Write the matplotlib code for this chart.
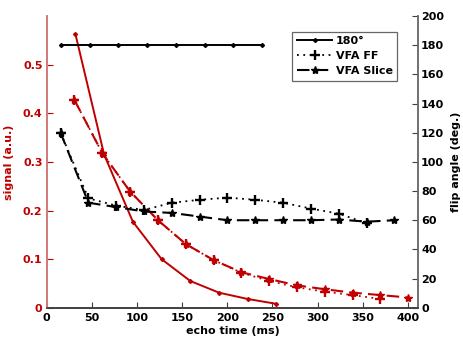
"""Signal decay and flip-angle schedules for 180 deg vs variable flip angle trains."""
import matplotlib

matplotlib.use("Agg")
import matplotlib.pyplot as plt
import numpy as np

RED = "#c00000"
INK = "#000000"

# echo times (ms)
te_180_sig = [31.8, 63.6, 95.4, 127.2, 159.0, 190.8, 222.6, 254.4]
te_180_fa = [15.9, 47.7, 79.5, 111.3, 143.1, 174.9, 206.7, 238.5]
te_vfa_sig = [30.8, 61.6, 92.4, 123.2, 154.0, 184.8, 215.6, 246.4, 277.2, 308.0, 338.8, 369.6, 400.4]
te_vfa_fa = [15.4, 46.2, 77.0, 107.8, 138.6, 169.4, 200.2, 231.0, 261.8, 292.6, 323.4, 354.2, 385.0]

# signal (a.u.)
sig_180 = [0.563, 0.315, 0.177, 0.100, 0.055, 0.031, 0.018, 0.008]
sig_ff = [0.427, 0.318, 0.239, 0.180, 0.131, 0.098, 0.072, 0.055, 0.042, 0.033, 0.026, 0.018]
sig_slice = [0.427, 0.318, 0.239, 0.180, 0.131, 0.098, 0.073, 0.059, 0.046, 0.038, 0.031, 0.026, 0.021]

# flip angle (deg.)
fa_180 = [180, 180, 180, 180, 180, 180, 180, 180]
fa_ff = [120, 75, 70, 67, 72, 74, 75.5, 74, 72, 68, 64.5, 58]
fa_slice = [120, 72, 69, 66, 65, 62.5, 60, 60, 60, 60, 60.5, 59, 60]

bold = dict(fontweight="bold", fontsize=8)

fig = plt.figure(figsize=(4.64, 3.45), dpi=100)
ax = fig.add_axes([0.1006, 0.108, 0.801, 0.8455])
ax2 = ax.twinx()

dash = (0, (6, 3))
dot = (0, (1, 2.5))

# signal curves on the left axis
ax.plot(te_180_sig, sig_180, color=RED, lw=1.4, marker="D", ms=2)
ax.plot(te_vfa_sig[:12], sig_ff, color=RED, lw=1.3, ls=dot, marker="+", ms=7, mew=1.7)
ax.plot(te_vfa_sig, sig_slice, color=RED, lw=1.5, ls=dash, marker="*", ms=6)

# flip angle schedules on the right axis
ax2.plot(te_180_fa, fa_180, color=INK, lw=1.4, marker="D", ms=2, label="180°")
ax2.plot(te_vfa_fa[:12], fa_ff, color=INK, lw=1.3, ls=dot, marker="+", ms=7, mew=1.7,
         label="VFA FF")
ax2.plot(te_vfa_fa, fa_slice, color=INK, lw=1.5, ls=dash, marker="*", ms=6,
         label="VFA Slice")

ax.set_xlim(0, 411.5)
ax.set_ylim(0, 0.6)
ax.set_yticks(np.arange(0, 0.51, 0.1))
ax.set_yticklabels(["0", "0.1", "0.2", "0.3", "0.4", "0.5"])
ax.set_xticks(range(0, 401, 50))
ax2.set_ylim(0, 200)
ax2.set_yticks(range(0, 201, 20))

ax.tick_params(axis="x", direction="in", length=4, pad=4, color="#404040")
ax.tick_params(axis="y", direction="in", length=4, pad=3, colors=RED)
ax2.tick_params(axis="y", direction="in", length=4, pad=2, color="#404040")
for lab in ax.get_xticklabels() + ax.get_yticklabels() + ax2.get_yticklabels():
    lab.set_fontweight("bold")
    lab.set_fontsize(8)
for lab in ax.get_yticklabels():
    lab.set_color(RED)

for a in (ax, ax2):
    a.spines["top"].set_visible(False)
    a.spines["left"].set_color("#d07878")
    a.spines["bottom"].set_color("#404040")
    a.spines["right"].set_color("#707070")
    a.spines["left"].set_linewidth(1.2)
    a.spines["bottom"].set_linewidth(1.2)
    a.spines["right"].set_linewidth(1.2)

ax.set_xlabel("echo time (ms)", labelpad=2, **bold)
ax.set_ylabel("signal (a.u.)", color=RED, labelpad=6, **bold)
ax2.set_ylabel("flip angle (deg.)", labelpad=5, **bold)

leg = ax2.legend(loc="upper right", bbox_to_anchor=(0.958, 0.965), fancybox=False,
                 edgecolor="#404040", prop=dict(weight="bold", size=8),
                 handlelength=3.2, handletextpad=0.3, borderpad=0.4, labelspacing=0.45)
leg.get_frame().set_linewidth(0.9)

fig.savefig("out.png", dpi=100)
